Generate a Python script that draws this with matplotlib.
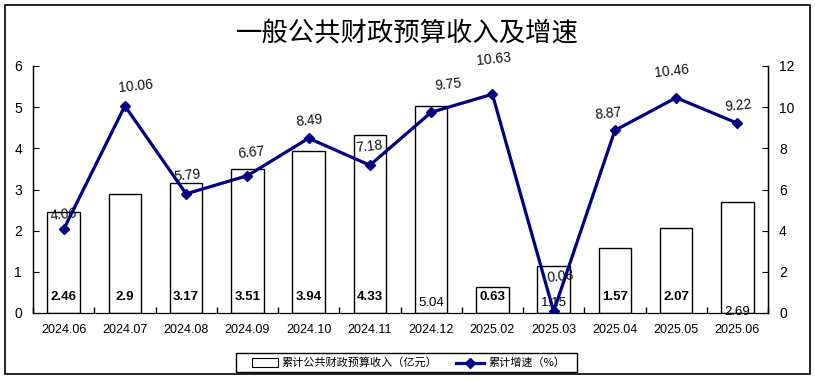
import numpy as np
import matplotlib.pyplot as plt
from matplotlib.patches import Rectangle

plt.rcParams['font.family'] = ['Liberation Sans', 'Noto Sans CJK SC', 'DejaVu Sans']

# data
months = ['2024.06', '2024.07', '2024.08', '2024.09', '2024.10', '2024.11',
          '2024.12', '2025.02', '2025.03', '2025.04', '2025.05', '2025.06']
revenue = [2.46, 2.9, 3.17, 3.51, 3.94, 4.33, 5.04, 0.63, 1.15, 1.57, 2.07, 2.69]
growth = [4.06, 10.06, 5.79, 6.67, 8.49, 7.18, 9.75, 10.63, 0.08, 8.87, 10.46, 9.22]
bold_label = [True, True, True, True, True, True, False, True, False, True, True, False]
label_y = [0.39, 0.39, 0.39, 0.39, 0.39, 0.39, 0.24, 0.39, 0.24, 0.39, 0.39, 0.03]
# label offsets (pixels) for the growth labels, as placed in the original
growth_dx = [0, 11, 1, 4, 1, -1, 17, 1, 7, -6, -4, 1]
growth_dy = [15, 20, 18, 23, 18, 19, 28, 35, 35, 17, 26, 18]

navy = '#000080'
x = np.arange(len(months))

fig = plt.figure(figsize=(8.15, 3.82), dpi=100)
ax = fig.add_axes([33 / 815, 1 - 313 / 382, 735 / 815, 247 / 382])
ax2 = ax.twinx()

# bars (left axis)
ax.bar(x, revenue, width=0.53, color='white', edgecolor='black', linewidth=1, zorder=2)
ax.set_xlim(-0.5, len(months) - 0.5)
ax.set_ylim(0, 6)
ax.set_yticks(range(0, 7))
for i, v in enumerate(revenue):
    ax.text(x[i], label_y[i], f'{v:g}', ha='center', va='center', fontsize=9.5,
            fontweight='bold' if bold_label[i] else 'normal', zorder=5)

# growth line (right axis)
ax2.plot(x, growth, color=navy, lw=2.3, marker='D', ms=5, zorder=4)
ax2.set_ylim(0, 12)
ax2.set_yticks(range(0, 13, 2))
for i, v in enumerate(growth):
    ax2.annotate(f'{v:.2f}', (x[i], v), xytext=(growth_dx[i], growth_dy[i]),
                 textcoords='offset pixels', ha='center', va='center', fontsize=10,
                 rotation=6, color='#111111')

# category ticks at boundaries
ax.set_xticks(x)
ax.set_xticklabels(months, fontsize=9)
ax.tick_params(axis='x', length=0, pad=8)
ax.set_xticks(np.arange(-0.5, len(months), 1), minor=True)
ax.tick_params(axis='x', which='minor', direction='in', length=4, width=1)
ax.tick_params(axis='y', direction='in', length=4, labelsize=10, pad=8)
ax2.tick_params(axis='y', direction='in', length=4, labelsize=10, pad=8)

for a in (ax, ax2):
    a.spines['top'].set_visible(False)
ax2.spines['right'].set_linewidth(1)
ax.spines['left'].set_linewidth(1)

ax.set_zorder(ax2.get_zorder() - 1)
ax2.patch.set_visible(False)

# title
fig.text(0.5, 1 - 33 / 382, '一般公共财政预算收入及增速', ha='center', va='center',
         fontsize=19, family=['Noto Sans CJK SC'], fontweight='light')

# frame and legend
leg_ax = fig.add_axes([0, 0, 1, 1], zorder=-5)
leg_ax.set_xlim(0, 815)
leg_ax.set_ylim(382, 0)
leg_ax.axis('off')
leg_ax.add_patch(Rectangle((5, 5), 805, 369, fill=False, edgecolor='black', lw=1.2))
leg_ax.add_patch(Rectangle((236, 353), 341, 19, fill=False, edgecolor='black', lw=1))
leg_ax.add_patch(Rectangle((252, 358), 26, 9, fill=False, edgecolor='black', lw=0.8))
leg_ax.text(281, 362.5, '累计公共财政预算收入（亿元）', ha='left', va='center', fontsize=8,
            family=['Noto Sans CJK SC'])
leg_ax.plot([456, 484], [362.5, 362.5], color=navy, lw=2.3)
leg_ax.plot([470], [362.5], color=navy, marker='D', ms=5)
leg_ax.text(488, 362.5, '累计增速（%）', ha='left', va='center', fontsize=8,
            family=['Noto Sans CJK SC'])

fig.savefig('out.png', dpi=100)
